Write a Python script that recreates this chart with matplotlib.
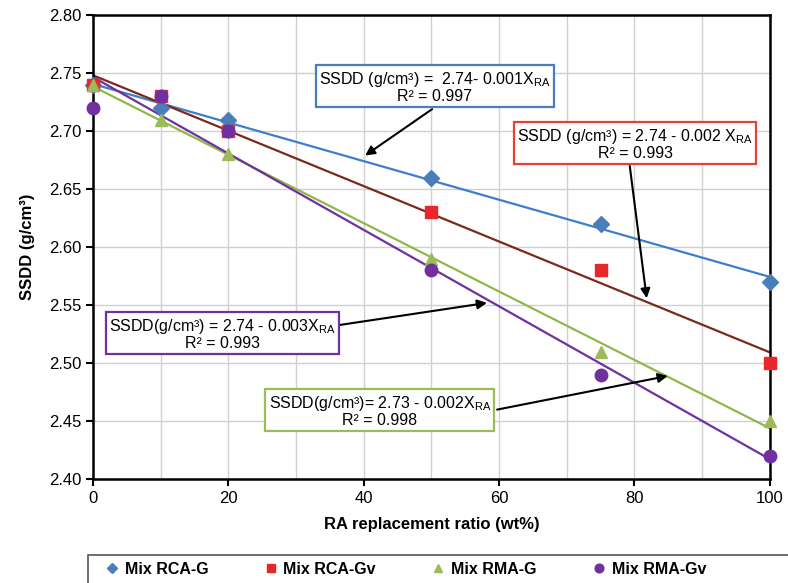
import numpy as np
import matplotlib
matplotlib.use("Agg")
from matplotlib import pyplot as plt
from matplotlib.patches import Rectangle

plt.rcParams['font.family'] = ['Liberation Sans', 'DejaVu Sans']
plt.rcParams['mathtext.fontset'] = 'custom'
plt.rcParams['mathtext.rm'] = 'Liberation Sans'

# data
ratio = [0, 10, 20, 50, 75, 100]
rca_g = [2.74, 2.72, 2.71, 2.66, 2.62, 2.57]
rca_gv = [2.74, 2.73, 2.70, 2.63, 2.58, 2.50]
rma_g = [2.74, 2.71, 2.68, 2.59, 2.51, 2.45]
rma_gv = [2.72, 2.73, 2.70, 2.58, 2.49, 2.42]

names = ["Mix RCA-G", "Mix RCA-Gv", "Mix RMA-G", "Mix RMA-Gv"]
series = [rca_g, rca_gv, rma_g, rma_gv]
markers = ["D", "s", "^", "o"]
msizes = [8, 8, 9, 9]
mcolors = ["#4a7ebb", "#e8262b", "#9bbb59", "#7030a0"]
lcolors = ["#3d7fc9", "#7a2a1c", "#8fb84a", "#7030a0"]

fig = plt.figure(figsize=(7.88, 5.83), dpi=100)
ax = fig.add_axes([0.118, 0.178, 0.859, 0.796])

handles = []
for y, m, ms, mc, lc, nm in zip(series, markers, msizes, mcolors, lcolors, names):
    h, = ax.plot(ratio, y, linestyle="none", marker=m, markersize=ms,
                 color=mc, label=nm, zorder=3, clip_on=False)
    handles.append(h)
    # linear trend line
    k, b = np.polyfit(ratio, y, 1)
    xx = np.array([0, 100])
    ax.plot(xx, k * xx + b, color=lc, lw=1.6, zorder=2)

ax.set_xlim(0, 100)
ax.set_ylim(2.40, 2.80)
ax.set_xticks(range(0, 101, 20))
ax.set_xticks(range(0, 101, 10), minor=True)
ax.set_yticks(np.arange(2.40, 2.801, 0.05))
ax.set_yticklabels(["%.2f" % v for v in np.arange(2.40, 2.801, 0.05)])
ax.grid(True, which="both", color="#d0d0d0", lw=1)
ax.set_axisbelow(True)
ax.tick_params(axis="both", which="major", labelsize=12, length=5, width=1.5, direction="out")
ax.tick_params(axis="x", which="minor", length=0)
for s in ax.spines.values():
    s.set_linewidth(1.8)
    s.set_color("black")

ax.set_xlabel("RA replacement ratio (wt%)", fontsize=12, fontweight="bold", labelpad=8)
ax.set_ylabel("SSDD (g/cm³)", fontsize=12, fontweight="bold", labelpad=10)

# equation boxes
boxes = [
    ("SSDD (g/cm³) =  2.74- 0.001X$_{\\mathregular{RA}}$\nR² = 0.997", 50.5, 2.738, "#4a7ebb",
     (50.1, 2.719), (40.2, 2.679)),
    ("SSDD (g/cm³) = 2.74 - 0.002 X$_{\\mathregular{RA}}$\nR² = 0.993", 80.1, 2.689, "#e8412e",
     (79.3, 2.670), (81.8, 2.556)),
    ("SSDD(g/cm³) = 2.74 - 0.003X$_{\\mathregular{RA}}$\nR² = 0.993", 19.1, 2.525, "#7030a0",
     (36.5, 2.533), (58.2, 2.552)),
    ("SSDD(g/cm³)= 2.73 - 0.002X$_{\\mathregular{RA}}$\nR² = 0.998", 42.4, 2.459, "#9bbb59",
     (59.7, 2.460), (84.9, 2.489)),
]
for txt, tx, ty, ec, tail, head in boxes:
    ax.annotate("", xy=head, xytext=tail,
                arrowprops=dict(arrowstyle="-|>", color="black", lw=1.5,
                                mutation_scale=14, shrinkA=0, shrinkB=0), zorder=4)
    ax.text(tx, ty, txt, ha="center", va="center", fontsize=11.5, linespacing=1.0,
            bbox=dict(boxstyle="square,pad=0.2", fc="white", ec=ec, lw=1.6), zorder=5)

# legend box, cut by the figure edge as in the original
fig.patches.append(Rectangle((88 / 788, -0.05), 1.0, 0.05 + 28 / 583,
                             transform=fig.transFigure, fill=False,
                             ec="#555555", lw=1.2))
leg = fig.legend(handles=handles, loc="center left", ncol=4,
                 bbox_to_anchor=(0.132, 0.024),
                 prop={"weight": "bold", "size": 11.5}, frameon=False,
                 handlelength=1.0, handletextpad=0.3, columnspacing=3.4,
                 borderpad=0, borderaxespad=0, markerscale=0.7)

plt.savefig("out.png", dpi=100)
